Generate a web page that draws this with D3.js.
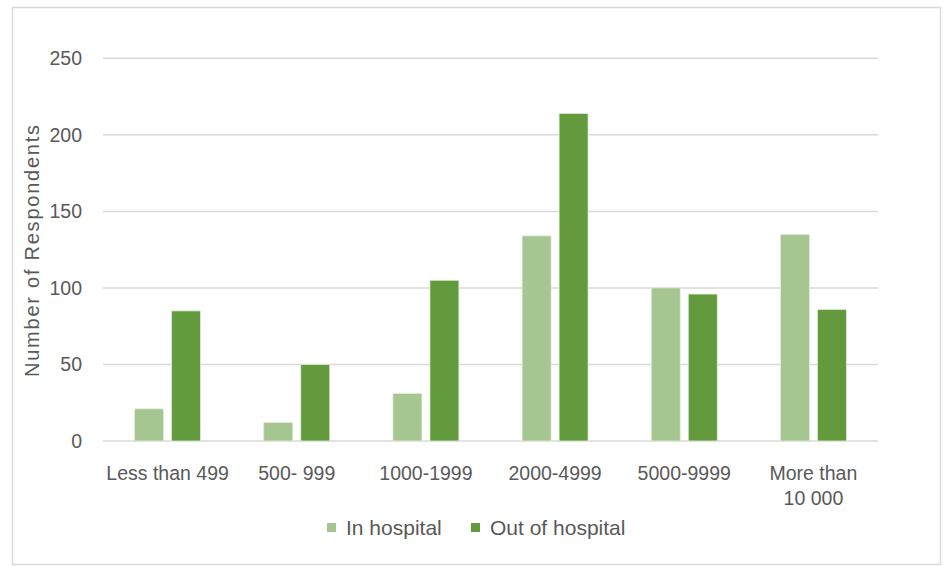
<!DOCTYPE html>
<html><head><meta charset="utf-8">
<script src="https://cdn.jsdelivr.net/npm/d3@7"></script>
<style>
html,body{margin:0;padding:0;background:#fff;}
text{font-family:"Liberation Sans",Arial,sans-serif;fill:#595959;}
</style></head>
<body>
<svg id="chart" width="945" height="566"></svg>
<script>
const categories = ["Less than 499", "500- 999", "1000-1999", "2000-4999", "5000-9999", "More than\n10 000"];
const seriesNames = ["In hospital", "Out of hospital"];
const inHospital = [21, 12, 31, 134, 100, 135];
const outOfHospital = [85, 50, 105, 214, 96, 86];
const yTicks = [0, 50, 100, 150, 200, 250];
const colors = ["#a5c591", "#639a3e"];

const svg = d3.select("#chart");
svg.append("rect").attr("x", 12.5).attr("y", 7.5).attr("width", 928).attr("height", 557)
  .attr("fill", "#fff").attr("stroke", "#d9d9d9").attr("stroke-width", 1.5);

const pL = 103, pR = 878, pT = 58.3, pB = 441;
const x = d3.scaleBand().domain(categories).range([pL, pR]);
const y = d3.scaleLinear().domain([0, 250]).range([pB, pT]);
const barW = 29, gap = 8;
const FS = 19.5;

// gridlines
svg.append("g").selectAll("line").data(yTicks).join("line")
  .attr("x1", pL).attr("x2", pR)
  .attr("y1", d => y(d)).attr("y2", d => y(d))
  .attr("stroke", "#d9d9d9").attr("stroke-width", 1.5);

// y axis labels
const yAxis = d3.axisLeft(y).tickValues(yTicks).tickSize(0).tickPadding(0);
const yg = svg.append("g").attr("transform", `translate(${82},0)`).call(yAxis);
yg.select(".domain").remove();
yg.selectAll("text").attr("font-size", FS).attr("fill", "#595959")
  .style("font-family", '"Liberation Sans",Arial,sans-serif');

// y title
svg.append("text").attr("transform", `translate(39,${251}) rotate(-90)`)
  .attr("text-anchor", "middle").attr("font-size", 20)
  .attr("textLength", 252).attr("lengthAdjust", "spacing")
  .text("Number  of Respondents");

// bars
const series = [inHospital, outOfHospital];
series.forEach((vals, si) => {
  svg.append("g").selectAll("rect").data(vals).join("rect")
    .attr("x", (d, i) => x(categories[i]) + x.bandwidth() / 2 + (si === 0 ? -(barW + gap / 2) : gap / 2))
    .attr("y", d => y(d))
    .attr("width", barW)
    .attr("height", d => y(0) - y(d))
    .attr("fill", colors[si])
    .attr("stroke", "#e2efd9").attr("stroke-width", 0.8);
});

// x labels
const xl = svg.append("g").selectAll("text").data(categories).join("text")
  .attr("x", d => x(d) + x.bandwidth() / 2)
  .attr("y", 479.5)
  .attr("text-anchor", "middle").attr("font-size", FS);
xl.each(function(d) {
  const lines = d.split("\n");
  const t = d3.select(this);
  lines.forEach((ln, i) => {
    t.append("tspan").attr("x", x(d) + x.bandwidth() / 2).attr("dy", i === 0 ? 0 : 25.5).text(ln);
  });
});

// legend
const legendItems = [{n: seriesNames[0], c: colors[0], x: 327}, {n: seriesNames[1], c: colors[1], x: 471}];
const lg = svg.append("g");
legendItems.forEach(it => {
  lg.append("rect").attr("x", it.x).attr("y", 523).attr("width", 9).attr("height", 9).attr("fill", it.c);
  lg.append("text").attr("x", it.x + 19).attr("y", 535).attr("font-size", 21).text(it.n);
});
</script>
</body></html>
